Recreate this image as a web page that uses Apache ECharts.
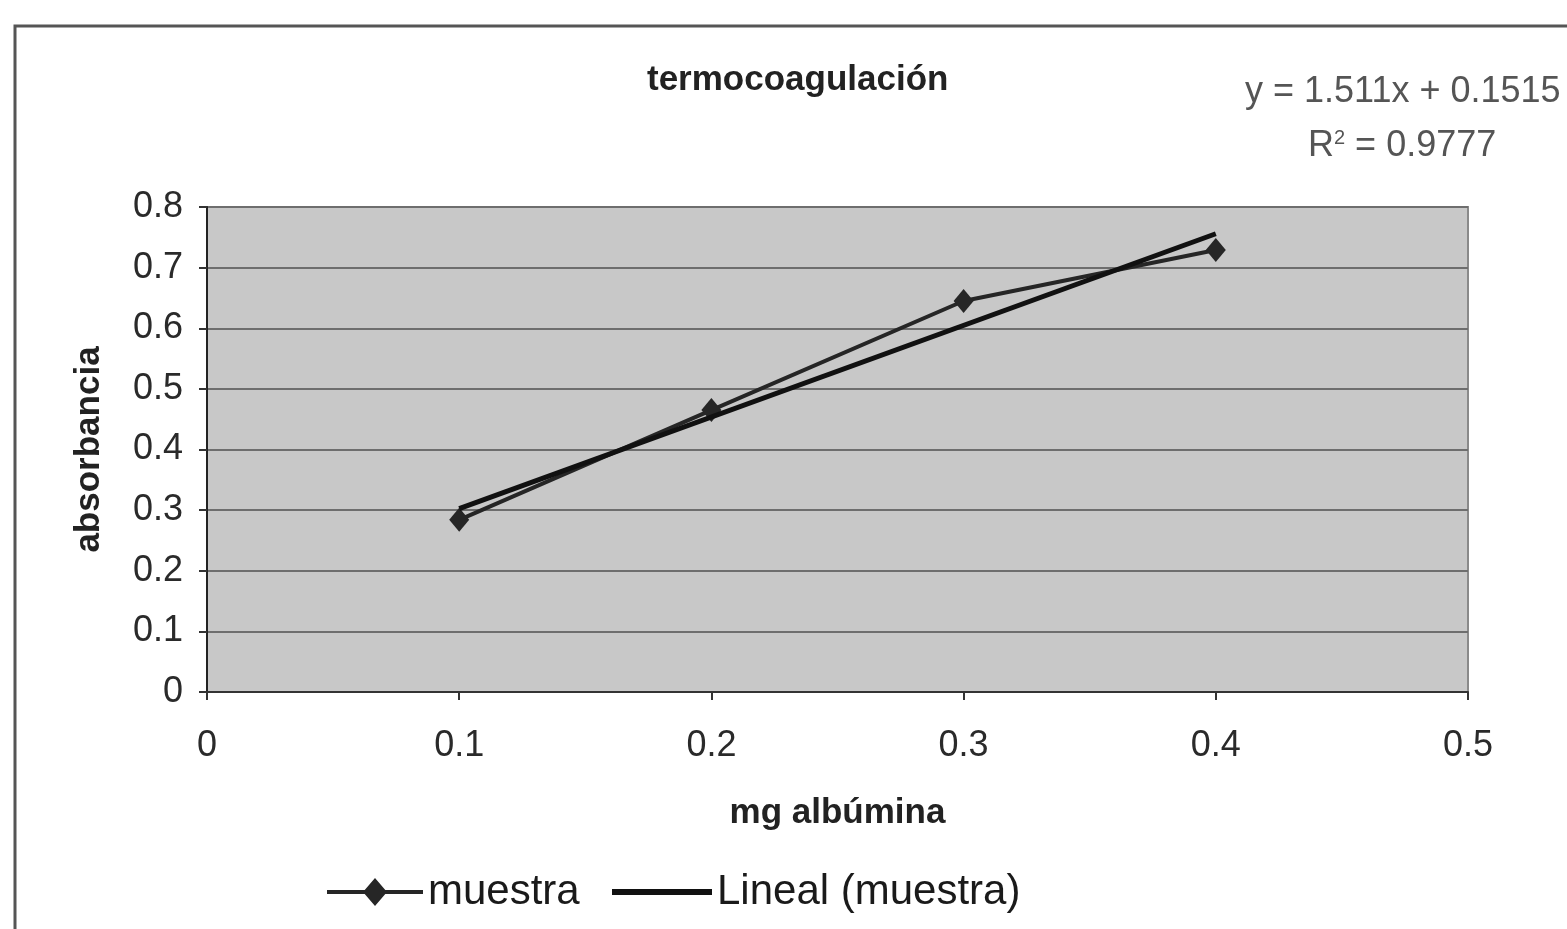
<!DOCTYPE html>
<html>
<head>
<meta charset="utf-8">
<script src="https://cdn.jsdelivr.net/npm/echarts@6/dist/echarts.min.js"></script>
<style>
html,body{margin:0;padding:0;background:#fff;}
#chart{width:1567px;height:929px;}
</style>
</head>
<body>
<div id="chart"></div>
<script>
// Data
const mgAlbumina = [0.1, 0.2, 0.3, 0.4];
const absorbancia = [0.284, 0.465, 0.645, 0.729];
// Trendline coefficients (from the chart's equation label)
const trendSlope = 1.511;
const trendIntercept = 0.1515;
const rSquared = 0.9777;
const xTicks = [0, 0.1, 0.2, 0.3, 0.4, 0.5];
const yTicks = [0, 0.1, 0.2, 0.3, 0.4, 0.5, 0.6, 0.7, 0.8];

const muestraData = mgAlbumina.map((x, i) => [x, absorbancia[i]]);
const xMin = Math.min(...mgAlbumina), xMax = Math.max(...mgAlbumina);
const trendData = [xMin, xMax].map(x => [x, trendSlope * x + trendIntercept]);

const chart = echarts.init(document.getElementById('chart'));
const FONT = '"Liberation Sans", Arial, sans-serif';
const legendText = {fontFamily: FONT, fontSize: 42, color: '#1a1a1a'};
chart.setOption({
  backgroundColor: '#ffffff',
  animation: false,
  title: {
    text: 'termocoagulación',
    left: 642, top: 58,
    textStyle: {fontFamily: FONT, fontSize: 35, fontWeight: 'bold', color: '#222'}
  },
  grid: {
    left: 207, right: 99, top: 207, bottom: 237,
    show: true, backgroundColor: '#c8c8c8', borderColor: '#8a8a8a', borderWidth: 2
  },
  legend: [
    {
      left: 322, top: 866, itemWidth: 96, itemHeight: 28, itemGap: 0,
      textStyle: legendText,
      data: [{name: 'muestra',
        icon: 'path://M0,12 L96,12 L96,16 L0,16 Z M48,0 L60,14 L48,28 L36,14 Z'}]
    },
    {
      left: 607, top: 866, itemWidth: 100, itemHeight: 6, itemGap: 0,
      textStyle: legendText,
      data: [{name: 'Lineal (muestra)', icon: 'rect'}]
    }
  ],
  xAxis: {
    type: 'value', min: xTicks[0], max: xTicks[xTicks.length - 1], interval: 0.1,
    name: 'mg albúmina', nameLocation: 'middle', nameGap: 104,
    nameTextStyle: {fontFamily: FONT, fontSize: 35, fontWeight: 'bold', color: '#222'},
    axisLine: {show: true, lineStyle: {color: '#333', width: 2}},
    axisTick: {show: true, length: 8, lineStyle: {color: '#333', width: 2}},
    axisLabel: {fontFamily: FONT, fontSize: 36, color: '#2a2a2a', margin: 36,
      formatter: v => String(Math.round(v * 10) / 10)},
    splitLine: {show: false}
  },
  yAxis: {
    type: 'value', min: yTicks[0], max: yTicks[yTicks.length - 1], interval: 0.1,
    name: 'absorbancia', nameLocation: 'middle', nameGap: 100,
    nameTextStyle: {fontFamily: FONT, fontSize: 35, fontWeight: 'bold', color: '#222'},
    axisLine: {show: true, lineStyle: {color: '#222', width: 2}},
    axisTick: {show: true, length: 8, lineStyle: {color: '#333', width: 2}},
    axisLabel: {fontFamily: FONT, fontSize: 36, color: '#2a2a2a', margin: 24,
      formatter: v => String(Math.round(v * 10) / 10)},
    splitLine: {show: true, lineStyle: {color: '#6e6e6e', width: 2}}
  },
  series: [
    {
      name: 'muestra', type: 'line', data: muestraData,
      symbol: 'diamond', symbolSize: [20, 24],
      lineStyle: {color: '#262626', width: 4},
      itemStyle: {color: '#262626'},
      z: 3
    },
    {
      name: 'Lineal (muestra)', type: 'line', data: trendData,
      symbol: 'none', showSymbol: false,
      lineStyle: {color: '#111', width: 5},
      itemStyle: {color: '#111'},
      z: 4
    }
  ],
  graphic: [
    {type: 'polyline', shape: {points: [[15, 929], [15, 26], [1567, 26]]},
      style: {stroke: '#555', lineWidth: 3, fill: null}, silent: true},
    {type: 'text', left: 1245, top: 74,
      style: {text: 'y = ' + trendSlope + 'x + ' + trendIntercept,
        font: '36px ' + FONT, fill: '#555'}},
    {type: 'text', left: 1308, top: 128,
      style: {text: '{a|R}{s|2}{a| = ' + rSquared + '}', fill: '#555',
        rich: {a: {fontFamily: FONT, fontSize: 36, fill: '#555', color: '#555', verticalAlign: 'bottom'},
               s: {fontFamily: FONT, fontSize: 20, fill: '#555', color: '#555', verticalAlign: 'top', padding: [0, 0, 16, 0]}}}}
  ]
});
</script>
</body>
</html>
